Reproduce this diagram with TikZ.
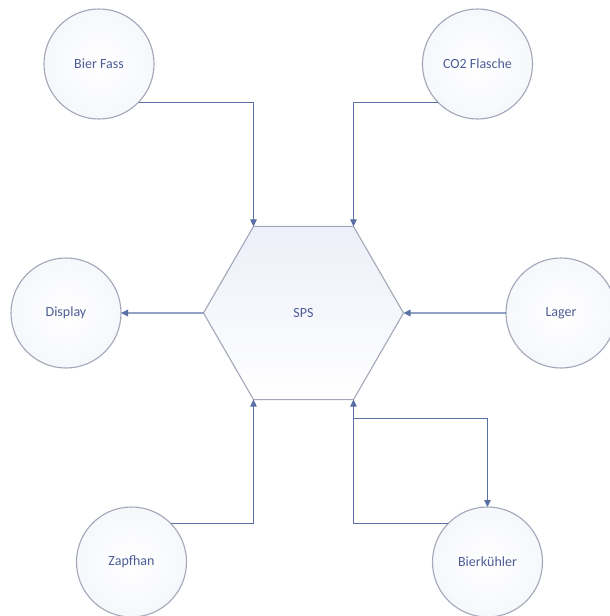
\documentclass[tikz,border=0pt]{standalone}
\usepackage{fontspec}
\setmainfont{Carlito}
\usetikzlibrary{shapes.geometric,arrows.meta}
\definecolor{edgegray}{HTML}{A3A7B8}
\definecolor{linkblue}{HTML}{5A6FA6}
\definecolor{txtblue}{HTML}{4E5D96}
\definecolor{fillblue}{HTML}{E6EAF6}
\tikzset{
  ent/.style={circle, draw=edgegray, line width=1.1pt, inner sep=0pt, outer sep=0pt,
    minimum size=110pt, inner color=white, outer color=fillblue!35,
    font=\fontsize{14}{16}\selectfont, text=txtblue},
  hub/.style={regular polygon, regular polygon sides=6, draw=edgegray, line width=1.1pt,
    inner sep=0pt, outer sep=0pt, minimum size=200pt, top color=fillblue!75, bottom color=white,
    font=\fontsize{14}{16}\selectfont, text=txtblue},
  link/.style={draw=linkblue, line width=1.1pt, -{Triangle[length=7pt,width=6.5pt]}}
}
\begin{document}
\begin{tikzpicture}[x=1pt,y=-1pt]
\useasboundingbox[fill=white] (0,0) rectangle (610,616);
\node[hub] (sps) at (303.5,313) {SPS};
\node[ent] (bf) at (99,64) {Bier Fass};
\node[ent] (co2) at (477.5,64) {CO2 Flasche};
\node[ent] (disp) at (66,313) {Display};
\node[ent] (lag) at (561,313) {Lager};
\node[ent] (zap) at (131.5,562) {Zapfhan};
\node[ent] (bk) at (487.5,562) {Bierkühler};
\draw[link] (bf.-44) -| (sps.120);
\draw[link] (co2.224) -| (sps.60);
\draw[link] (sps.180) -- (disp.east);
\draw[link] (lag.west) -- (sps.0);
\draw[link] (zap.44) -| (sps.240);
\draw[link] (bk.136) -| (sps.300);
\coordinate (split) at ([yshift=-19pt]sps.300);
\draw[link] (split) -| (bk.north);
\end{tikzpicture}
\end{document}
